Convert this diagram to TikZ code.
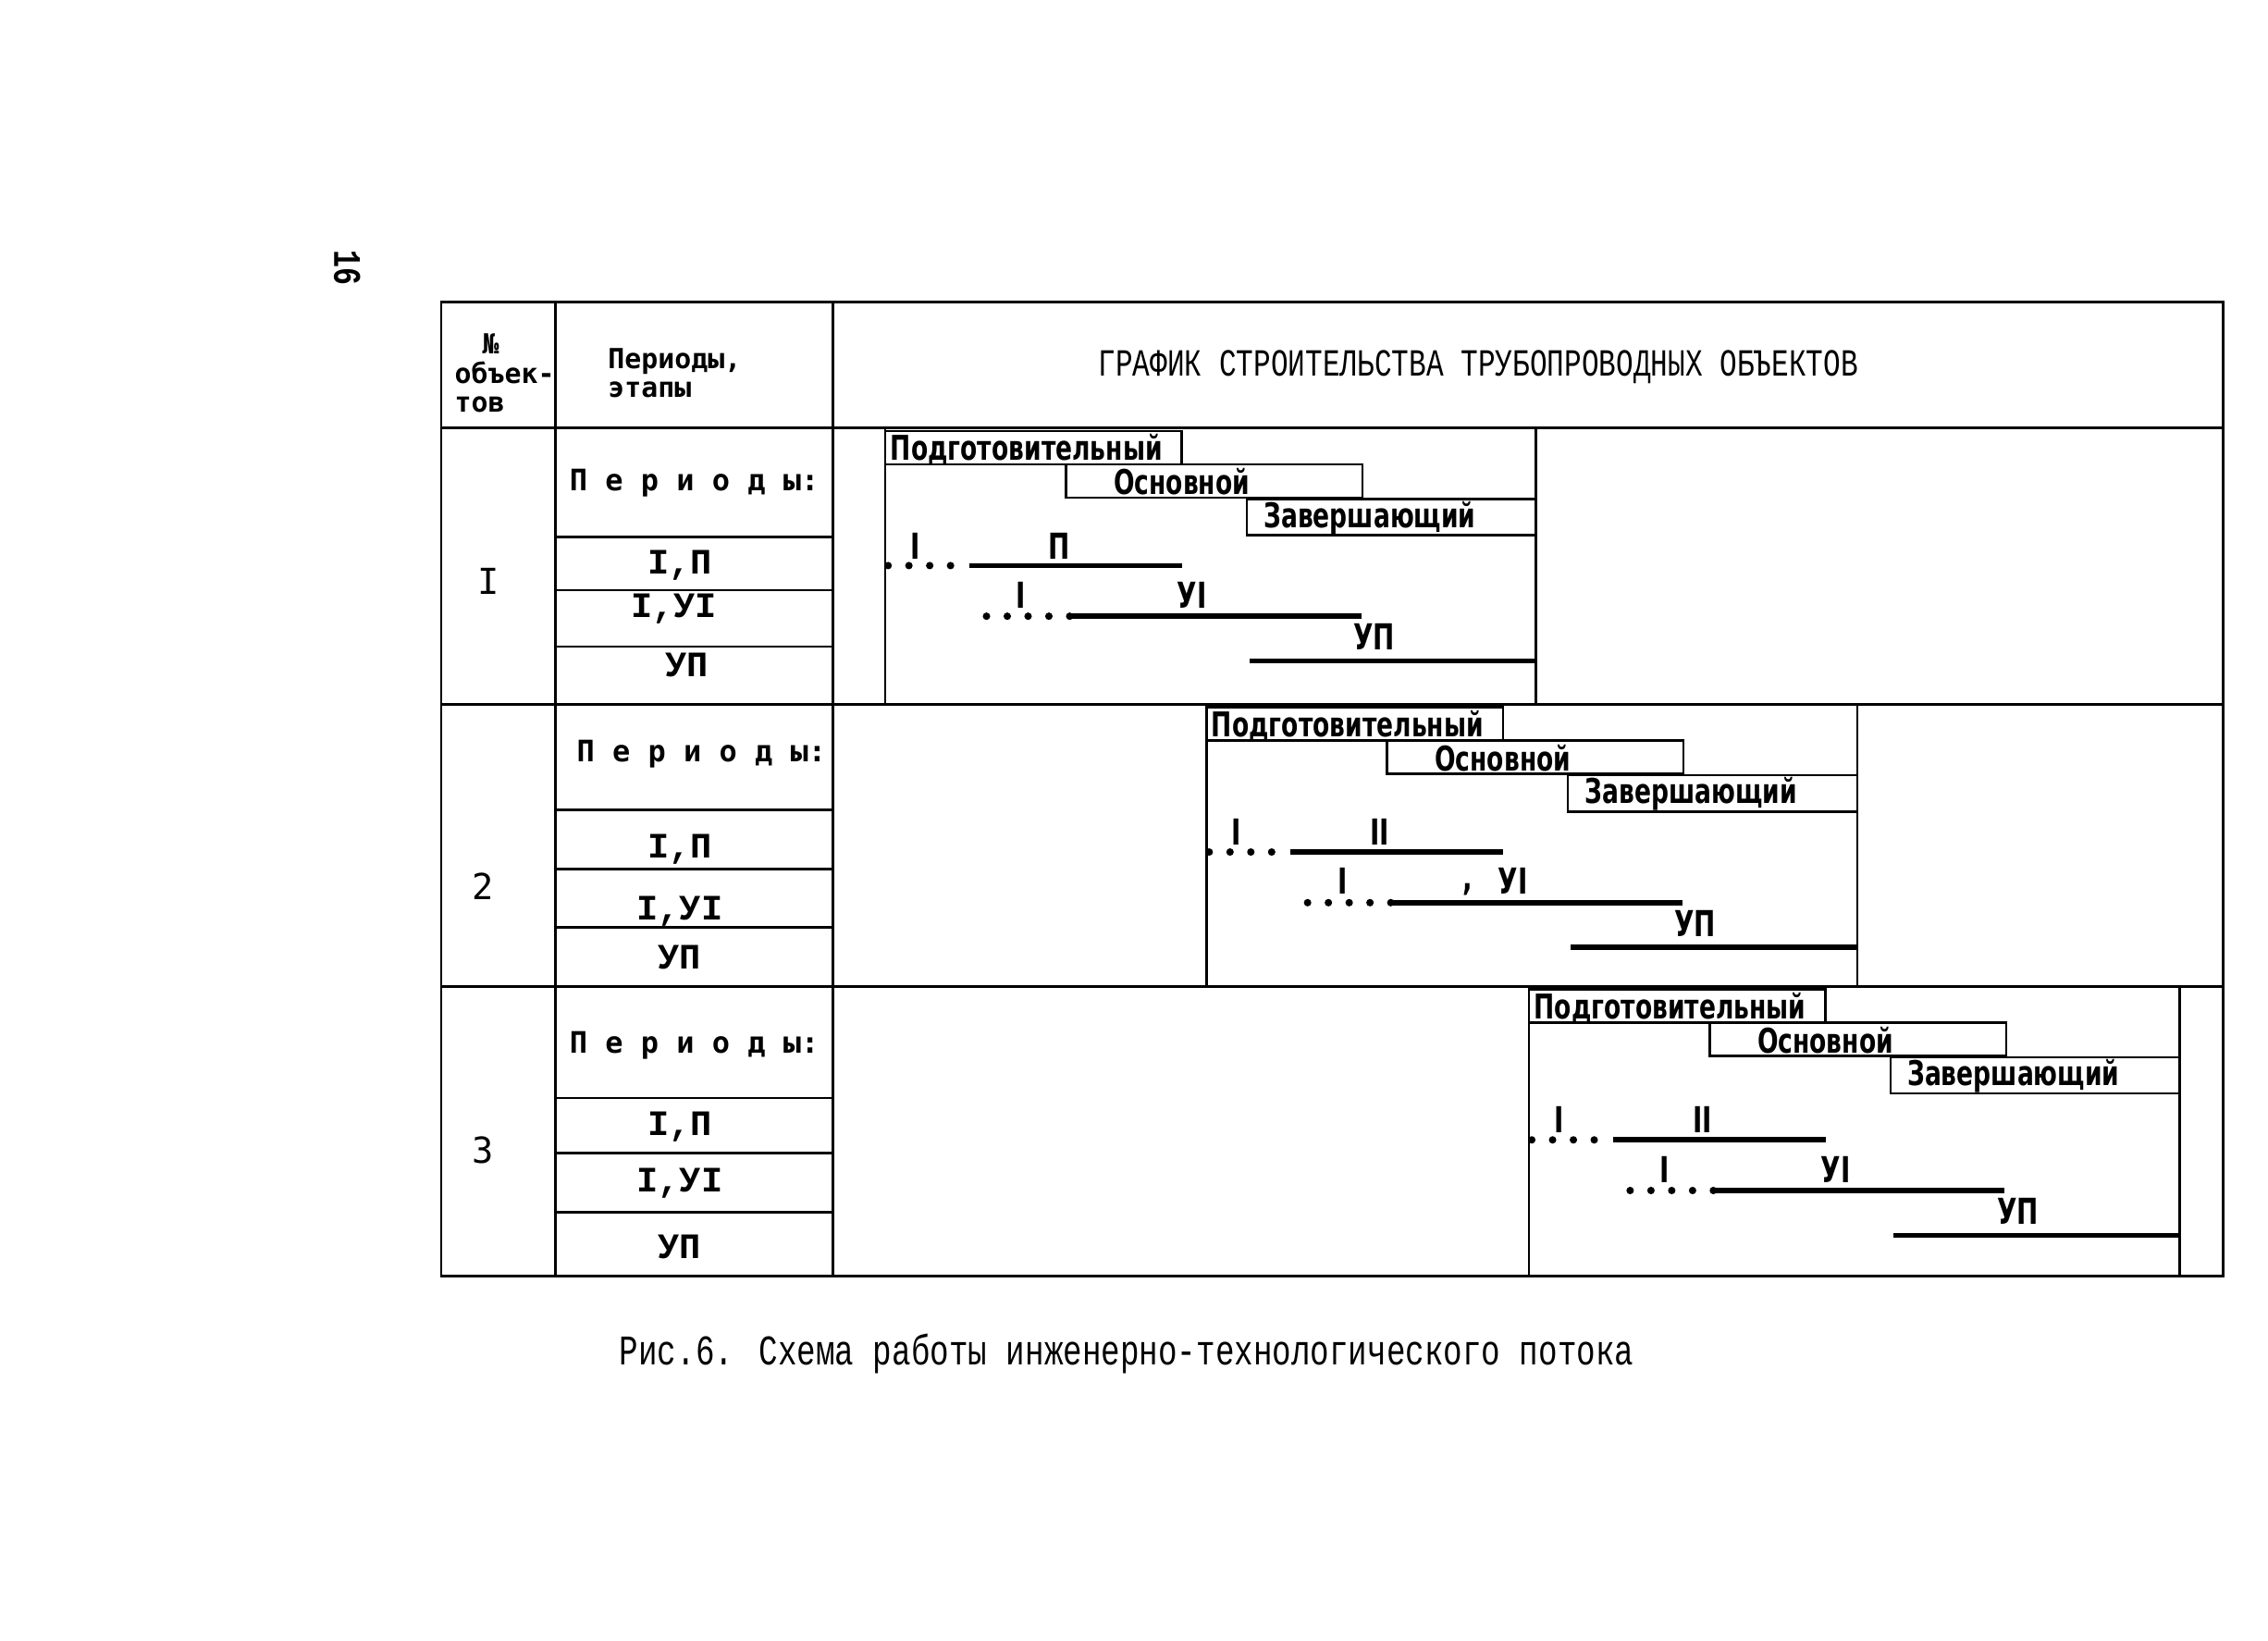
\documentclass[tikz,border=0pt]{standalone}
\usepackage{fontspec}
\setmainfont{Liberation Mono}
\newfontfamily\typew[FakeStretch=0.75]{Liberation Mono}
\newfontfamily\monosans{DejaVu Sans Mono}
\newfontfamily\ganttfont[FakeStretch=0.72]{DejaVu Sans}
\usetikzlibrary{calc}
\newcommand
    {\GanttBlock}[6]
    {%
        \begin{scope}[shift={(#2,#3)}]
            % frame of the block
            \draw[gframe] (0,0) rectangle (450,#4);
            % periods
            \draw[pbox] (0,2) rectangle (205,25);
            \node (#1prep) [ptext, anchor=west] at (1,15) {Подготовительный};
            \draw[pbox] (125,25) rectangle (330,48);
            \node (#1main) [ptext] at (205,37) {Основной};
            \draw[pbox] (250,49) rectangle (450,74);
            \node (#1fin) [ptext] at (335,62) {Завершающий};
            % stages I, II
            \coordinate (#1a0) at (2,95+#5);
            \coordinate (#1a1) at (58,95+#5);
            \coordinate (#1a2) at (205,95+#5);
            \draw[dotbar] (#1a0) -- (#1a1);
            \draw[solidbar] (#1a1) -- (#1a2);
            \node (#1aI) [stage] at (21,93+#5) {I};
            \node (#1aII) [stage] at (120,93+#5) {#6};
            % stages I, VI
            \coordinate (#1b0) at (70,130+#5);
            \coordinate (#1b1) at (128,130+#5);
            \coordinate (#1b2) at (329,130+#5);
            \draw[dotbar] (#1b0) -- (#1b1);
            \draw[solidbar] (#1b1) -- (#1b2);
            \node (#1bI) [stage] at (94,127+#5) {I};
            \node (#1bVI) [stage] at (212,127+#5) {УI};
            % stage VII
            \coordinate (#1c0) at (252,161+#5);
            \coordinate (#1c1) at (450,161+#5);
            \draw[solidbar] (#1c0) -- (#1c1);
            \node (#1cVII) [stage] at (338,156+#5) {УП};
        \end{scope}%
    }

\begin{document}
\begin{tikzpicture}[x=0.15638mm, y=-0.15638mm,
        grid/.style={line width=0.8pt},
        gframe/.style={line width=0.8pt},
        pbox/.style={line width=0.7pt},
        ptext/.style={font=\ganttfont\bfseries\fontsize{10.5}{10.5}\selectfont, inner sep=1pt},
        solidbar/.style={line width=1.6pt},
        dotbar/.style={line width=2.3pt, line cap=round, dash pattern=on 0pt off 6.4pt},
        stage/.style={font=\ganttfont\bfseries\fontsize{11}{11}\selectfont, inner sep=1pt, anchor=south},
        hdr/.style={font=\monosans\bfseries\fontsize{8.5}{9}\selectfont, align=left, anchor=west, inner sep=0pt},
        ttl/.style={font=\typew\fontsize{11.8}{11.8}\selectfont},
        per/.style={font=\monosans\bfseries\fontsize{9.1}{9.1}\selectfont},
        cell/.style={font=\bfseries\fontsize{11}{11}\selectfont},
        objnum/.style={font=\monosans\fontsize{11}{11}\selectfont}]
        \useasboundingbox (0,0) rectangle (1568,1134);

        % 1. Page number
        \node (pgno) [rotate=-90, font=\typew\bfseries\fontsize{12}{12}\selectfont] at (240,185) {16};

        % 2. Table grid
        \draw[grid] (305,209) rectangle (1537,882);
        \draw[grid] (305,296) -- (1537,296);
        \draw[grid] (305,487) -- (1537,487);
        \draw[grid] (305,682) -- (1537,682);
        \draw[grid] (384,209) -- (384,882);
        \draw[grid] (576,209) -- (576,882);
        \draw[grid] (384,371) -- (576,371) (384,408) -- (576,408) (384,447) -- (576,447)
                    (384,560) -- (576,560) (384,601) -- (576,601) (384,641) -- (576,641)
                    (384,759) -- (576,759) (384,797) -- (576,797) (384,838) -- (576,838);

        % 3. Header
        \node (hnum) [hdr] at (314,258) {\hspace*{1em}№\\объек-\\тов};
        \node (hper) [hdr] at (420,258) {Периоды,\\этапы};
        \node (title) [ttl] at (1022,254) {ГРАФИК СТРОИТЕЛЬСТВА ТРУБОПРОВОДНЫХ ОБЪЕКТОВ};

        % 4. Object I
        \node (obj1) [objnum] at (338,402) {I};
        \node (per1) [per] at (480,334) {П е р и о д ы:};
        \node (st11) [cell] at (470,391) {I,П};
        \node (st12) [cell] at (466,421) {I,УI};
        \node (st13) [cell] at (475,460) {УП};
        \GanttBlock{a}{612}{296}{191}{0}{П}

        % 5. Object 2
        \node (obj2) [objnum] at (334,613) {2};
        \node (per2) [per] at (485,521) {П е р и о д ы:};
        \node (st21) [cell] at (470,587) {I,П};
        \node (st22) [cell] at (470,630) {I,УI};
        \node (st23) [cell] at (470,662) {УП};
        \GanttBlock{b}{834}{487}{195}{7}{II}
        \node (bcomma) [stage] at (1015,135+487) {,};

        % 6. Object 3
        \node (obj3) [objnum] at (334,795) {3};
        \node (per3) [per] at (480,723) {П е р и о д ы:};
        \node (st31) [cell] at (470,779) {I,П};
        \node (st32) [cell] at (470,818) {I,УI};
        \node (st33) [cell] at (470,862) {УП};
        \GanttBlock{c}{1057}{682}{200}{11}{II}

        % 7. Caption
        \node (caption) [font=\typew\fontsize{13}{13}\selectfont] at (779,936) {Рис.6. Схема работы инженерно-технологического потока};
    \end{tikzpicture}
\end{document}
